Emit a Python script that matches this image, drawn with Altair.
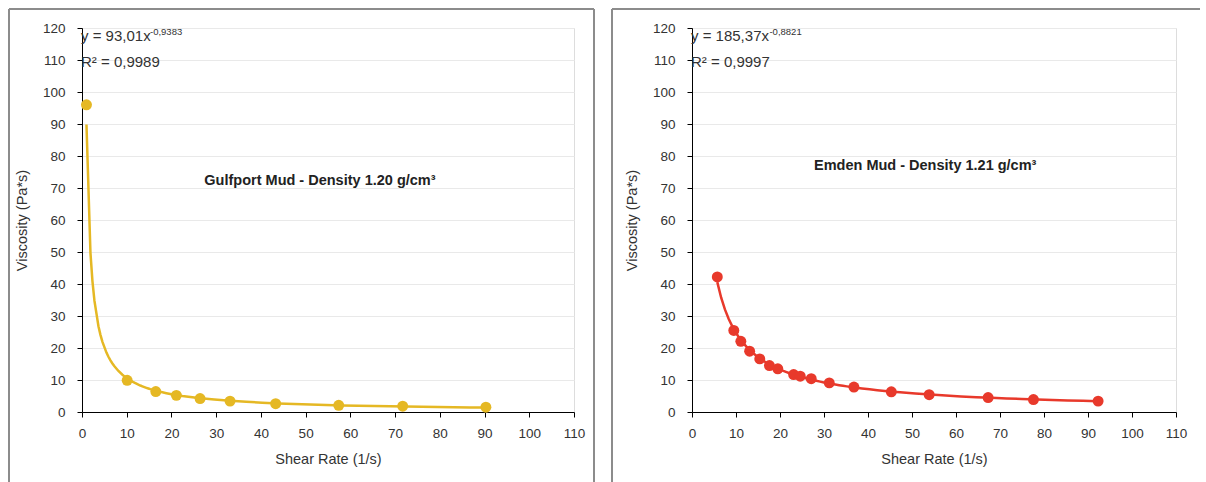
import altair as alt
import pandas as pd

# ---- data ----
gulf_rate = [1.0, 10.1, 16.5, 21.1, 26.4, 33.1, 43.3, 57.4, 71.7, 90.3]
gulf_visc = [96.0, 9.9, 6.4, 5.2, 4.2, 3.4, 2.6, 2.1, 1.8, 1.5]

emden_rate = [5.75, 9.5, 11.1, 13.1, 15.4, 17.6, 19.5, 23.1, 24.6, 27.1, 31.2,
              36.8, 45.3, 53.9, 67.3, 77.6, 92.3]
emden_visc = [42.2, 25.5, 22.1, 19.0, 16.6, 14.5, 13.5, 11.7, 11.2, 10.4, 9.1,
              7.8, 6.3, 5.4, 4.5, 3.9, 3.4]

x_ticks = list(range(0, 111, 10))
y_ticks = list(range(0, 121, 10))

GOLD = "#E5B824"
RED = "#E8392B"
FONT = "Liberation Sans"


def panel(xs, ys, color, eq_main, eq_exp, exp_x, r2, title, title_xy,
          frame_left, frame_right, width, height, right_edge):
    df = pd.DataFrame({"x": xs, "y": ys})
    X = alt.X("x:Q", title="Shear Rate (1/s)",
              scale=alt.Scale(domain=[0, 110], nice=False, zero=True),
              axis=alt.Axis(values=x_ticks, grid=False, domainColor="black",
                            tickColor="black", tickSize=5, labelPadding=9,
                            labelFlush=False, labelOverlap=False,
                            labelColor="#333", labelFontSize=13.5, labelFont=FONT,
                            titleFont=FONT, titleFontSize=14.5, titleColor="#333",
                            titleFontWeight="normal", titlePadding=13))
    Y = alt.Y("y:Q", title="Viscosity (Pa*s)",
              scale=alt.Scale(domain=[0, 120], nice=False),
              axis=alt.Axis(values=y_ticks, grid=True, gridColor="#e9e9e9",
                            domainColor="black", tickColor="black", tickSize=5,
                            labelFlush=False, labelOverlap=False,
                            labelPadding=12, labelColor="#333", labelFontSize=13.5,
                            labelFont=FONT, titleFont=FONT, titleFontSize=14.5,
                            titleColor="#333", titleFontWeight="normal",
                            titlePadding=13))
    base = alt.Chart(df)
    fit = base.transform_regression("x", "y", method="pow").mark_line(
        color=color, strokeWidth=2.5).encode(x=X, y=Y)
    pts = base.mark_circle(size=120, opacity=1, color=color).encode(x=X, y=Y)

    eq_df = pd.DataFrame({"x": [0, 0], "y": [117.5, 109.4],
                          "label": [eq_main, r2]})
    eq = alt.Chart(eq_df).mark_text(align="left", baseline="middle", dx=-1,
                                    font=FONT, fontSize=15, color="#333").encode(
        x=X, y=Y, text="label:N")
    exp_df = pd.DataFrame({"x": [exp_x], "y": [118.6], "label": [eq_exp]})
    exp = alt.Chart(exp_df).mark_text(align="left", baseline="middle",
                                      font=FONT, fontSize=9.5, color="#333").encode(
        x=X, y=Y, text="label:N")
    t_df = pd.DataFrame({"x": [title_xy[0]], "y": [title_xy[1]], "label": [title]})
    ttl = alt.Chart(t_df).mark_text(align="center", baseline="middle", font=FONT,
                                    fontSize=14.5, fontWeight="bold",
                                    color="#222").encode(x=X, y=Y, text="label:N")

    frame_color = "#8c8c8c"
    bottom = height + 71
    top = -19
    frames = [
        alt.Chart(df).mark_rule(color=frame_color, strokeWidth=1.5).encode(
            x=alt.value(frame_left), x2=alt.value(width + frame_right),
            y=alt.value(top), y2=alt.value(top)),
        alt.Chart(df).mark_rule(color=frame_color, strokeWidth=1.5).encode(
            x=alt.value(frame_left), x2=alt.value(frame_left),
            y=alt.value(top), y2=alt.value(bottom)),
    ]
    if right_edge:
        frames.append(alt.Chart(df).mark_rule(color=frame_color, strokeWidth=1.5).encode(
            x=alt.value(width + frame_right), x2=alt.value(width + frame_right),
            y=alt.value(top), y2=alt.value(bottom)))
    return alt.layer(fit, pts, eq, exp, ttl, *frames).properties(
        width=width, height=height)


left = panel(gulf_rate, gulf_visc, GOLD, "y = 93,01x", "-0,9383", 15.2,
             "R² = 0,9989", "Gulfport Mud - Density 1.20 g/cm³", (53.2, 72.2),
             -73, 20, 492, 384, True)
right = panel(emden_rate, emden_visc, RED, "y = 185,37x", "-0,8821", 17.6,
              "R² = 0,9997", "Emden Mud - Density 1.21 g/cm³", (53.0, 76.8),
              -80, 24, 484, 384, False)

chart = alt.hconcat(left, right, spacing=14).properties(
    padding={"left": 7, "top": 7, "right": 0, "bottom": 0}
).configure_view(stroke=None).configure(background="white")

chart.save("out.html", embed_options={"renderer": "svg", "actions": False})
